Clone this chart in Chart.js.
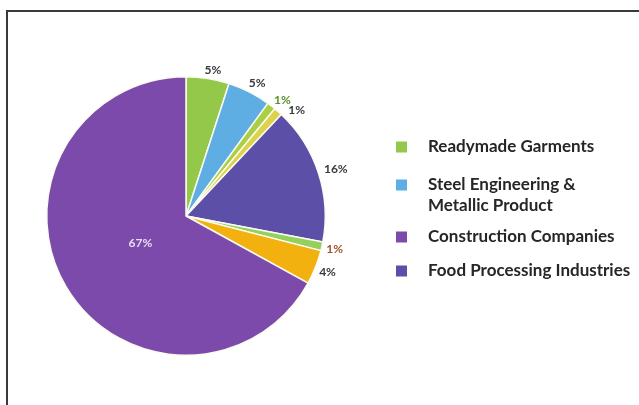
<!DOCTYPE html>
<html>
<head>
<meta charset="utf-8">
<script src="https://cdn.jsdelivr.net/npm/chart.js@4/dist/chart.umd.min.js"></script>
<style>
  html, body { margin: 0; padding: 0; background: #fff; }
  #wrap { position: relative; width: 639px; height: 405px; }
  #frame { position: absolute; left: 6px; top: 10px; right: 0; bottom: 0;
           border-left: 2px solid #3a3a3a; border-top: 2px solid #3a3a3a; pointer-events: none; }
  canvas { position: absolute; left: 0; top: 0; }
</style>
</head>
<body>
<div id="wrap">
  <canvas id="pie" width="639" height="405"></canvas>
  <div id="frame"></div>
</div>
<script>
// Sector shares (percent), clockwise from 12 o'clock
const categories = [
  'Readymade Garments',
  'Steel Engineering & Metallic Product',
  'Leather Goods',
  'Plastic Products',
  'Food Processing Industries',
  'Pharmaceuticals',
  'Electronics',
  'Construction Companies'
];
const shares = [5, 5, 1, 1, 16, 1, 4, 67];
const sliceColors = ['#93c84b', '#5eaee4', '#a9cf45', '#dcd24c', '#5b4fa7', '#93d05c', '#f3b10f', '#7c4aab'];
const labelColors = ['#3a3a3a', '#3a3a3a', '#5b8f2a', '#3a3a3a', '#3a3a3a', '#a0552a', '#3a3a3a', '#e6ddf0'];

// Legend entries: category index + wrapped label lines
const legendEntries = [
  { index: 0, lines: ['Readymade Garments'] },
  { index: 1, lines: ['Steel Engineering &', 'Metallic Product'] },
  { index: 7, lines: ['Construction Companies'] },
  { index: 4, lines: ['Food Processing Industries'] }
];

const sliceLabels = {
  id: 'sliceLabels',
  afterDatasetsDraw(chart, args, opts) {
    const ctx = chart.ctx;
    const ds = chart.data.datasets[0];
    chart.getDatasetMeta(0).data.forEach((arc, i) => {
      const v = ds.data[i];
      const mid = (arc.startAngle + arc.endAngle) / 2;
      const r = v > 50 ? arc.outerRadius * 0.38 : arc.outerRadius + 13;
      const n = opts.nudge[i] || [0, 0];
      const x = arc.x + Math.cos(mid) * r + n[0];
      const y = arc.y + Math.sin(mid) * r + n[1];
      ctx.save();
      ctx.font = 'bold 12px Lato, "Open Sans", sans-serif';
      ctx.fillStyle = opts.colors[i];
      ctx.textAlign = 'center';
      ctx.textBaseline = 'middle';
      ctx.fillText(v + '%', x, y);
      ctx.restore();
    });
  }
};

const sideLegend = {
  id: 'sideLegend',
  afterDraw(chart, args, opts) {
    const ctx = chart.ctx;
    const colors = chart.data.datasets[0].backgroundColor;
    ctx.save();
    ctx.font = 'bold 17px Lato, "Open Sans", sans-serif';
    ctx.textBaseline = 'middle';
    opts.entries.forEach((e, j) => {
      const y = opts.rows[j];
      ctx.fillStyle = colors[e.index];
      ctx.fillRect(opts.boxX, y - 5.5, 11, 11);
      ctx.fillStyle = '#262626';
      e.lines.forEach((line, k) => ctx.fillText(line, opts.textX, y + k * opts.lineGap));
    });
    ctx.restore();
  }
};

new Chart(document.getElementById('pie'), {
  type: 'pie',
  data: {
    labels: categories,
    datasets: [{
      data: shares,
      backgroundColor: sliceColors,
      borderColor: '#fbfbf0',
      borderWidth: 1.5
    }]
  },
  options: {
    responsive: false,
    animation: false,
    layout: { padding: { left: 46, right: 313, top: 76, bottom: 49 } },
    plugins: {
      legend: { display: false },
      tooltip: { enabled: false },
      sliceLabels: { colors: labelColors, nudge: { 0: [3, 5], 1: [2, 3], 2: [3, 4], 3: [10, 8], 4: [5, 0] } },
      sideLegend: { entries: legendEntries, boxX: 396, textX: 428, rows: [147, 185, 237, 271], lineGap: 21 }
    }
  },
  plugins: [sliceLabels, sideLegend]
});
</script>
</body>
</html>
